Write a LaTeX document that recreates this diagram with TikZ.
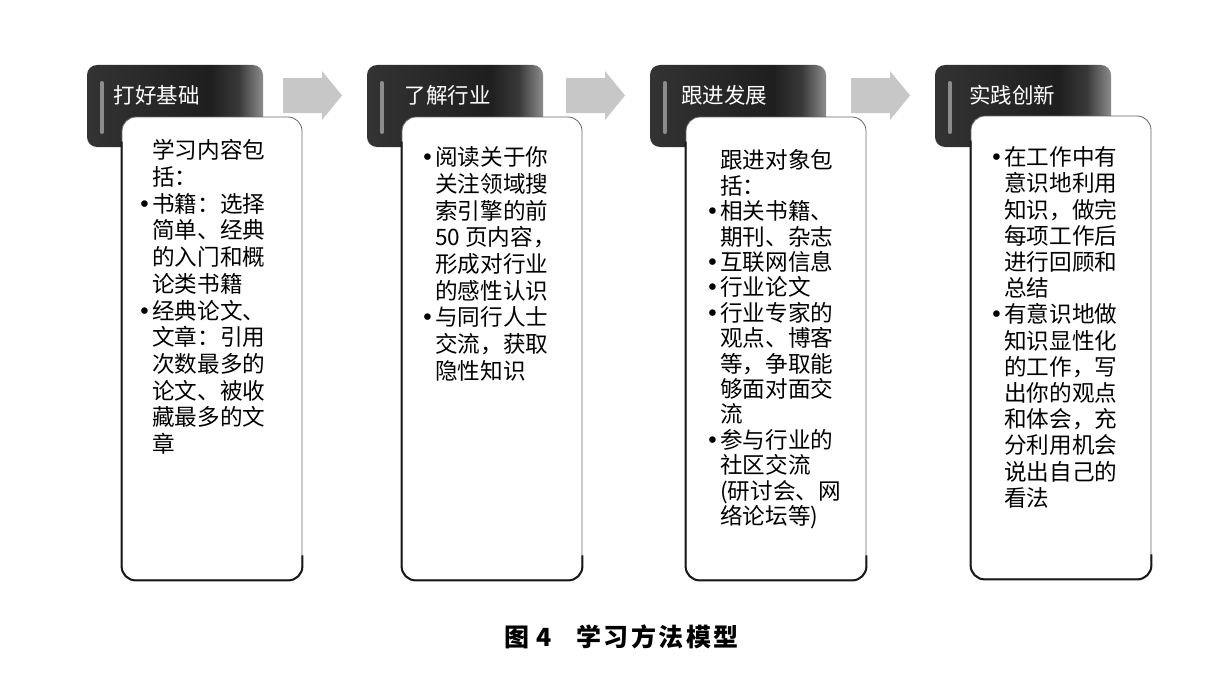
\documentclass[tikz,border=0pt]{standalone}
\usepackage{fontspec}
\newfontfamily\cjk{Noto Sans CJK SC}
\newfontfamily\bulf{DejaVu Sans}
\usetikzlibrary{calc}
\pgfdeclarehorizontalshading{hdrshade}{100bp}{color(0bp)=(black!80); color(25bp)=(black!80); color(60bp)=(black!88); color(68bp)=(black!78); color(75bp)=(black!45); color(100bp)=(black!45)}
\newcommand\bu{\llap{{\bulf •}\hspace{1pt}}}
\tikzset{
  hdrbox/.style={rounded corners=10pt, shading=hdrshade, minimum width=176pt, minimum height=82pt, inner sep=0pt},
  hdrtxt/.style={text=white, font=\cjk\fontsize{21.5}{24}\selectfont, inner sep=0pt},
  stripe/.style={draw=black!45, line width=3.5pt, line cap=round},
  bodybox/.style={draw=black!60, line width=0.8pt, fill=white, rounded corners=14pt, minimum width=180pt, minimum height=463pt, inner sep=0pt},
  edge/.style={draw=black!90, line width=2pt, rounded corners=14pt},
  bodytxt/.style={font=\cjk\fontsize{22.6}{26.7}\selectfont, align=left, inner sep=0pt, anchor=north west},
  blockarrow/.style={fill=black!22},
  captxt/.style={font=\cjk\bfseries\fontsize{25}{27}\selectfont, inner sep=0pt, anchor=west}
}
\begin{document}
\begin{tikzpicture}[x=1pt, y=-1pt]
\useasboundingbox (0,0) rectangle (1223,677);
\fill[white] (0,0) rectangle (1223,677);

% headers
\node[hdrbox] (h1) at (175,106) {};
\node[hdrbox] (h2) at (455,106) {};
\node[hdrbox] (h3) at (738,106) {};
\node[hdrbox] (h4) at (1023,106) {};
\foreach \h in {h1,h2,h3,h4}{
  \draw[stripe] ($(\h.north west)+(15,18)$) -- ($(\h.south west)+(15,-15)$);
}
\node[hdrtxt] (ht1) at (156.5,95) {打好基础};
\node[hdrtxt] (ht2) at (447.5,95) {了解行业};
\node[hdrtxt] (ht3) at (724,95) {跟进发展};
\node[hdrtxt] (ht4) at (1012,95) {实践创新};

% block arrows
\coordinate (a1) at (283,95.5);
\coordinate (a2) at (566,95.5);
\coordinate (a3) at (851,95.5);
\foreach \a in {a1,a2,a3}{
  \fill[blockarrow] (\a) ++(0,-17.5) -- ++(39,0) -- ++(0,-7) -- ++(20,24.5) -- ++(-20,24.5) -- ++(0,-7) -- ++(-39,0) -- cycle;
}

% body boxes
\node[bodybox] (b1) at (212,348.5) {};
\node[bodybox] (b2) at (492,348.5) {};
\node[bodybox] (b3) at (776,348.5) {};
\node[bodybox] (b4) at (1061,347.5) {};
\foreach \b in {b1,b2,b3,b4}{
  \draw[edge] ($(\b.north west)+(0,25)$) -- (\b.south west) -- (\b.south east) -- ($(\b.south east)+(0,-25)$);
}

% body texts
\node[bodytxt] (t1) at (152,139.5) {学习内容包\\%
括：\\%
\bu 书籍：选择\\%
简单、经典\\%
的入门和概\\%
论类书籍\\%
\bu 经典论文、\\%
文章：引用\\%
次数最多的\\%
论文、被收\\%
藏最多的文\\%
章};

\node[bodytxt] (t2) at (435,146.5) {\bu 阅读关于你\\%
关注领域搜\\%
索引擎的前\\%
50 页内容，\\%
形成对行业\\%
的感性认识\\%
\bu 与同行人士\\%
交流，获取\\%
隐性知识};

\node[bodytxt, font=\cjk\fontsize{22.6}{25.4}\selectfont] (t3) at (720,149.5) {跟进对象包\\%
括：\\%
\bu 相关书籍、\\%
期刊、杂志\\%
\bu 互联网信息\\%
\bu 行业论文\\%
\bu 行业专家的\\%
观点、博客\\%
等，争取能\\%
够面对面交\\%
流\\%
\bu 参与行业的\\%
社区交流\\%
(研讨会、网\\%
络论坛等)};

\node[bodytxt, font=\cjk\fontsize{22.6}{26.2}\selectfont] (t4) at (1004,146.5) {\bu 在工作中有\\%
意识地利用\\%
知识，做完\\%
每项工作后\\%
进行回顾和\\%
总结\\%
\bu 有意识地做\\%
知识显性化\\%
的工作，写\\%
出你的观点\\%
和体会，充\\%
分利用机会\\%
说出自己的\\%
看法};

% caption
\node[captxt] (cap) at (504,636.5) {图\hspace{7pt}4\hspace{25pt}学\hspace{2.5pt}习\hspace{2.5pt}方\hspace{2.5pt}法\hspace{2.5pt}模\hspace{2.5pt}型};
\end{tikzpicture}
\end{document}
